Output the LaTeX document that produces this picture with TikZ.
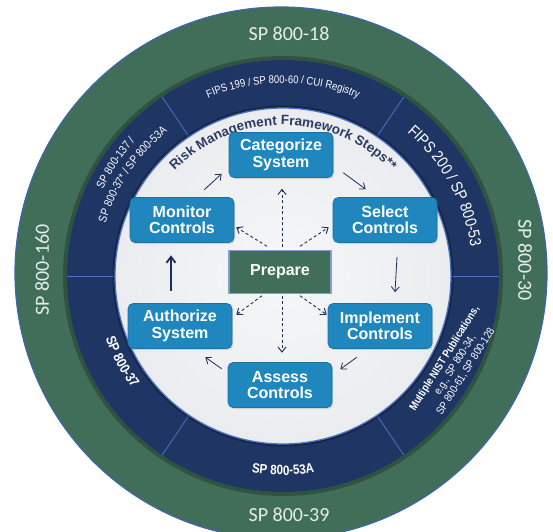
\documentclass[tikz,border=0pt]{standalone}
\usepackage{fontspec}
\setmainfont{Liberation Sans}
\newfontfamily\calib{Carlito}
\newfontfamily\narrowf{Liberation Sans}[FakeStretch=0.86]
\usetikzlibrary{calc,decorations.text,arrows.meta,shadows}
\definecolor{ringgreen}{HTML}{406E58}
\definecolor{navy}{HTML}{1F3664}
\definecolor{boxblue}{HTML}{1F86BE}
\definecolor{divline}{HTML}{4A72C0}
\definecolor{arrowc}{HTML}{1E2E5A}
\definecolor{titlec}{HTML}{2B3C66}
\definecolor{innerw}{HTML}{F0F1F4}
\definecolor{ringtext}{HTML}{E6EEE8}
\begin{document}
\begin{tikzpicture}[x=1pt,y=1pt,
  stepbox/.style={draw=boxblue!85!black, line width=0.6pt, fill=boxblue, rounded corners=5pt,
    minimum width=104pt, minimum height=45pt, text=white,
    font=\fontsize{16}{16.5}\selectfont\bfseries, align=center, inner sep=0pt,
    drop shadow={opacity=0.25,shadow xshift=1pt,shadow yshift=-1.5pt}},
  prepbox/.style={draw=divline!70!white, line width=1.5pt, fill=ringgreen, minimum width=102pt,
    minimum height=43pt, text=white, font=\fontsize{16}{16}\selectfont\bfseries, inner sep=0pt},
  flow/.style={draw=arrowc, line width=0.8pt, -{Straight Barb[length=5pt,width=8pt]}},
  dflow/.style={flow, dash pattern=on 3pt off 2.5pt, line width=0.9pt},
  ringlabel/.style={text=ringtext, font=\calib\fontsize{20}{20}\selectfont, inner sep=0pt},
  divider/.style={draw=divline, line width=0.8pt}
]
\useasboundingbox (0,0) rectangle (553,531);
\clip (0,0) rectangle (553,531);
\coordinate (G) at (281,258);
\coordinate (C) at (283,255);
% rings
\fill[ringgreen] (G) circle[radius=266];
\draw[divline!80!navy, line width=1.2pt] (G) circle[radius=266];
\draw[black, opacity=0.25, line width=4pt] (C) circle[radius=218];
\fill[navy] (C) circle[radius=216];
\foreach \a in {0,56,124,180,236,304} \draw[divider] ($(C)+(\a:168)$) -- ($(C)+(\a:216)$);
\draw[black, opacity=0.3, line width=3pt] (C) circle[radius=169];
\shade[inner color=white!40!innerw, outer color=innerw!98!black] (C) circle[radius=168];
\draw[divline, line width=1.3pt] (C) circle[radius=168];
% green ring labels
\node[ringlabel] (t18) at (289,497) {SP 800-18};
\node[ringlabel] (t39) at (289,16) {SP 800-39};
\node[ringlabel, rotate=90] (t160) at (42,261) {SP 800-160};
\node[ringlabel, rotate=-90] (t30) at (525,271) {SP 800-30};
% blue ring labels
\path[decorate, decoration={text along path, text color=white, text align=center,
  text={|\narrowf\fontsize{11}{11}\selectfont|FIPS 199 / SP 800-60 / CUI Registry}}]
  ($(C)+(125:193)$) arc[start angle=125, end angle=55, radius=193];
\path[decorate, decoration={text along path, text color=white, text align=center,
  text={|\narrowf\fontsize{16}{16}\selectfont|FIPS 200 / SP 800-53}}]
  ($(C)+(58:190)$) arc[start angle=58, end angle=0, radius=190];
\path[decorate, decoration={text along path, text color=white, text align=center,
  text={|\narrowf\fontsize{11.5}{11.5}\selectfont|SP 800-137 /}}]
  ($(C)+(175:200)$) arc[start angle=175, end angle=117, radius=200];
\path[decorate, decoration={text along path, text color=white, text align=center,
  text={|\narrowf\fontsize{11.5}{11.5}\selectfont|SP 800-37* / SP 800-53A}}]
  ($(C)+(175:185)$) arc[start angle=175, end angle=117, radius=185];
\path[decorate, decoration={text along path, text color=white, text align=center,
  text={|\narrowf\bfseries\fontsize{14}{14}\selectfont|SP 800-37}}]
  ($(C)+(185:188)$) arc[start angle=185, end angle=231, radius=188];
\path[decorate, decoration={text along path, text color=white, text align=center,
  text={|\narrowf\bfseries\fontsize{13.5}{13.5}\selectfont|SP 800-53A}}]
  ($(C)+(245:199)$) arc[start angle=245, end angle=295, radius=199];
\node[rotate=58, text=white, align=center, inner sep=0pt,
  font=\narrowf\fontsize{11}{12.5}\selectfont] (multi) at (455,166)
  {\bfseries Multiple NIST Publications,\\e.g., SP 800-34,\\SP 800-61, SP 800-128};
% title along inner circle
\path[decorate, decoration={text along path, text color=titlec, text align=center,
  text={|\bfseries\fontsize{13.5}{13.5}\selectfont|Risk Management Framework Steps**}}]
  ($(C)+(141:151)$) arc[start angle=141, end angle=39, radius=151];
% steps
\node[stepbox] (cat) at (281,376) {Categorize\\System};
\node[stepbox] (sel) at (385,311) {Select\\Controls};
\node[stepbox] (mon) at (182,311) {Monitor\\Controls};
\node[stepbox] (auth) at (180,205) {Authorize\\System};
\node[stepbox] (impl) at (380,205) {Implement\\Controls};
\node[stepbox] (assess) at (280,146) {Assess\\Controls};
\node[prepbox] (prep) at (280,259) {Prepare};
% cycle arrows
\draw[flow] ($(cat.south east)+(10,5)$) -- ($(sel.north west)+(33,8)$);
\draw[flow] ($(sel.south)+(12,-14)$) -- ($(impl.north)+(15,11)$);
\draw[flow] ($(impl.south west)+(29,-8.5)$) -- ($(assess.north east)+(8,-7)$);
\draw[flow] ($(assess.north west)+(-6,-6.5)$) -- ($(auth.south east)+(-27,-8.5)$);
\draw[flow, line width=1.8pt, -{Straight Barb[length=6pt,width=9pt]}] ($(auth.north)+(-9,12.5)$) -- ($(mon.south)+(-11,-12.5)$);
\draw[flow] ($(mon.north east)+(-30,7.5)$) -- ($(cat.south west)+(-7,4)$);
% prepare arrows
\draw[dflow] ($(prep.north)+(2,2.5)$) -- ($(cat.south)+(1,-11)$);
\draw[dflow] ($(prep.north)+(-13,3.5)$) -- ($(mon.south east)+(2,15.5)$);
\draw[dflow] ($(prep.north)+(20,3.5)$) -- ($(sel.south west)+(-4,15.5)$);
\draw[dflow] ($(prep.south)+(-18,-1.5)$) -- ($(auth.north east)+(4,-11.5)$);
\draw[dflow] ($(prep.south)+(20,-1.5)$) -- ($(impl.north west)+(-1,-11.5)$);
\draw[dflow] ($(prep.south)+(2,-1.5)$) -- ($(assess.north)+(2,9.5)$);
\end{tikzpicture}
\end{document}
